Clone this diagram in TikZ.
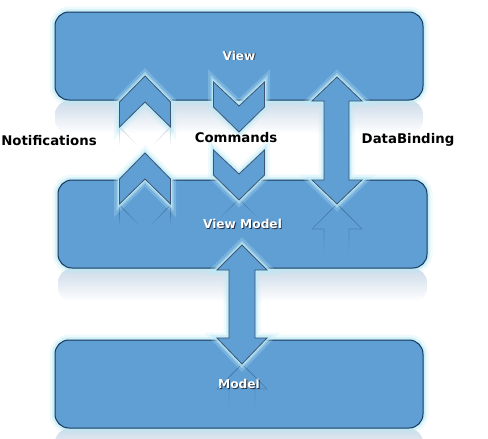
\documentclass[tikz,border=0pt]{standalone}
\usepackage{fontspec}
\setmainfont{DejaVu Sans}
\usepackage{tikz}
\usetikzlibrary{fadings}
\definecolor{boxfill}{RGB}{96,159,212}
\definecolor{boxline}{RGB}{28,56,88}
\definecolor{glowc}{RGB}{190,234,247}
\definecolor{reflc}{RGB}{205,219,233}
\definecolor{shadowc}{RGB}{40,50,70}
\tikzfading[name=fadedown, top color=transparent!10, bottom color=transparent!100]
\newcommand\shtext[1]{\makebox[0pt][l]{\kern0.9pt\raisebox{-0.9pt}{\color{shadowc}#1}}#1}

\begin{document}
\begin{tikzpicture}[x=1pt, y=-1pt,
  glow/.style={preaction={draw=glowc, line width=11pt, opacity=.25},
               preaction={draw=glowc, line width=6pt, opacity=.5},
               preaction={draw=glowc, line width=3pt, opacity=.8}},
  box/.style={glow, draw=boxline, fill=boxfill, line width=1pt, rounded corners=14pt,
              minimum width=368pt, minimum height=88pt, inner sep=0pt, text=white,
              font=\bfseries\fontsize{12.2}{14}\selectfont},
  block/.style={glow, draw=boxline!85, fill=boxfill, line width=.8pt, line join=miter},
  lbl/.style={font=\bfseries\fontsize{13.3}{15}\selectfont, text=black, inner sep=0pt},
  refl/.style={draw=#1, line width=.7pt, opacity=.6, path fading=fadedown}]
\useasboundingbox (0,0) rectangle (488,439);
\clip (0,0) rectangle (488,439);

% mirrored boxes
\shade[top color=reflc, bottom color=white, rounded corners=14pt] (55,100.5) rectangle (423,134);
\shade[top color=reflc, bottom color=white, rounded corners=14pt] (58,268.5) rectangle (427,302);
\shade[top color=reflc, bottom color=white, rounded corners=14pt] (55,428.5) rectangle (423,462);

% the three layers
\node[box] (view) at (239,56) {\shtext{View}};
\node[box, minimum width=369pt] (vm) at (242.5,224) {\shtext{View Model}};
\node[box] (model) at (239,384) {\shtext{Model}};

% mirrored arrows
\draw[refl=reflc!70!black] (119.5,127) -- (119.5,146) (119.5,127) -- (138,146)
  (170.5,127) -- (170.5,146) (170.5,127) -- (152,146);
\draw[refl=boxline] (119.5,205) -- (119.5,226) (119.5,205) -- (139,225)
  (170.5,205) -- (170.5,226) (170.5,205) -- (151,225);
\draw[refl=boxline] (239,199) -- (220,218) (239,199) -- (258,218);
\draw[refl=boxline] (337,204) -- (312,229) -- (324,229) -- (324,254)
  (337,204) -- (362,229) -- (349,229) -- (349,254);
\draw[refl=boxline] (242,364) -- (217,389) -- (229,389) -- (229,408)
  (242,364) -- (267,389) -- (255,389) -- (255,408);

% Notifications
\foreach \tx/\ty in {145/76,145/153}
  \draw[block] (\tx,\ty) -- ++(25.5,26) -- ++(0,25) -- ++(-25.5,-25)
    -- ++(-25.5,25) -- ++(0,-25) -- cycle;
% Commands
\foreach \tx/\ty in {239/82,239/150}
  \draw[block] (\tx,\ty) ++(-25.5,0) -- ++(25.5,24) -- ++(25.5,-24) -- ++(0,25)
    -- ++(-25.5,25) -- ++(-25.5,-25) -- cycle;
% DataBinding
\draw[block] (337,77) -- (362,101) -- (349,101) -- (349,180) -- (362,180) -- (337,204)
  -- (312,180) -- (324,180) -- (324,101) -- (312,101) -- cycle;
% View Model <-> Model
\draw[block] (242,245) -- (267,270) -- (255,270) -- (255,338) -- (267,338) -- (242,364)
  -- (217,338) -- (229,338) -- (229,270) -- (217,270) -- cycle;

\node[lbl] (notif) at (49,141) {Notifications};
\node[lbl] (cmds) at (236,138) {Commands};
\node[lbl] (bind) at (408,140) {DataBinding};
\end{tikzpicture}
\end{document}
